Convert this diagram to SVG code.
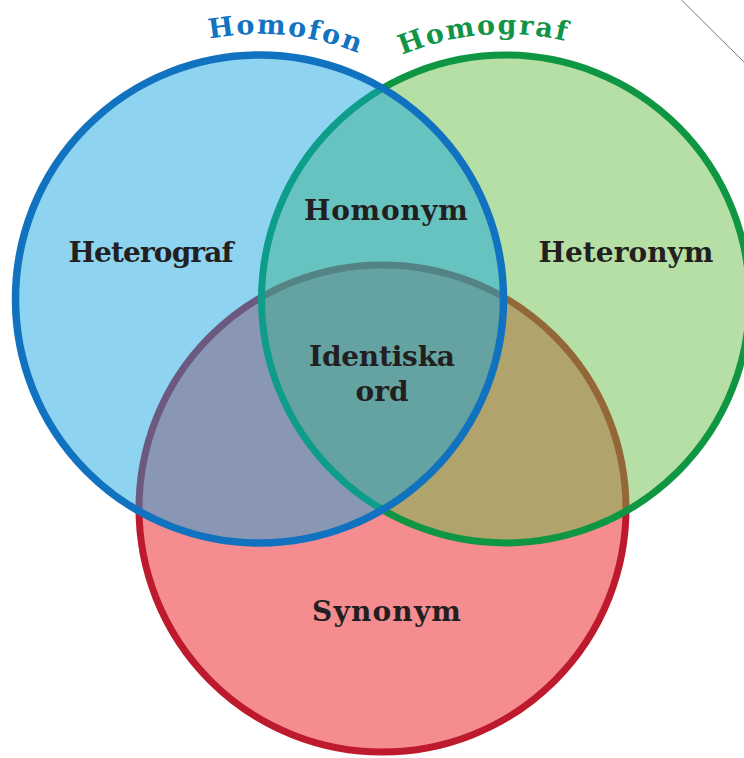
<svg xmlns="http://www.w3.org/2000/svg" width="744" height="758" viewBox="0 0 744 758">
  <style>
    .lbl { font-family: "DejaVu Serif", "Liberation Serif", serif; font-weight: bold; font-size: 28px; fill: #231f20; text-anchor: middle; }
    .ttl { font-family: "DejaVu Serif", "Liberation Serif", serif; font-weight: bold; font-size: 27px; letter-spacing: 2px; text-anchor: middle; }
  </style>
  <defs>
    <path id="arcBlue" d="M 91.7 93.9 A 265 265 0 0 1 464.6 131.2"/>
    <path id="arcGreen" d="M 303.3 127.9 A 265 265 0 0 1 684.4 103.5"/>
  </defs>
  <rect width="744" height="758" fill="#ffffff"/>
  <line x1="681.5" y1="0" x2="744" y2="62" stroke="#7a7a7a" stroke-width="1"/>
  <g id="synonym">
    <circle cx="382.5" cy="508.5" r="243.5" fill="#f58d90" stroke="#be1a2d" stroke-width="7"/>
  </g>
  <g id="homograf">
    <circle cx="505.5" cy="299" r="244" fill="rgb(101,188,67)" fill-opacity="0.48" stroke="#0f9642" stroke-width="7"/>
  </g>
  <g id="homofon">
    <circle cx="259.5" cy="299" r="244" fill="rgb(13,163,223)" fill-opacity="0.467" stroke="#1172bf" stroke-width="7.5"/>
  </g>
  <g id="titles">
    <text class="ttl" fill="#1273bf"><textPath href="#arcBlue" startOffset="50%">Homofon</textPath></text>
    <text class="ttl" fill="#119447"><textPath href="#arcGreen" startOffset="48.8%">Homograf</textPath></text>
  </g>
  <g id="labels">
    <text class="lbl" x="151" y="262" textLength="165">Heterograf</text>
    <text class="lbl" x="386" y="220" textLength="164">Homonym</text>
    <text class="lbl" x="626" y="262" textLength="175">Heteronym</text>
    <text class="lbl" x="382" y="366" textLength="146">Identiska</text>
    <text class="lbl" x="382" y="401">ord</text>
    <text class="lbl" x="386.5" y="621" textLength="149">Synonym</text>
  </g>
</svg>
